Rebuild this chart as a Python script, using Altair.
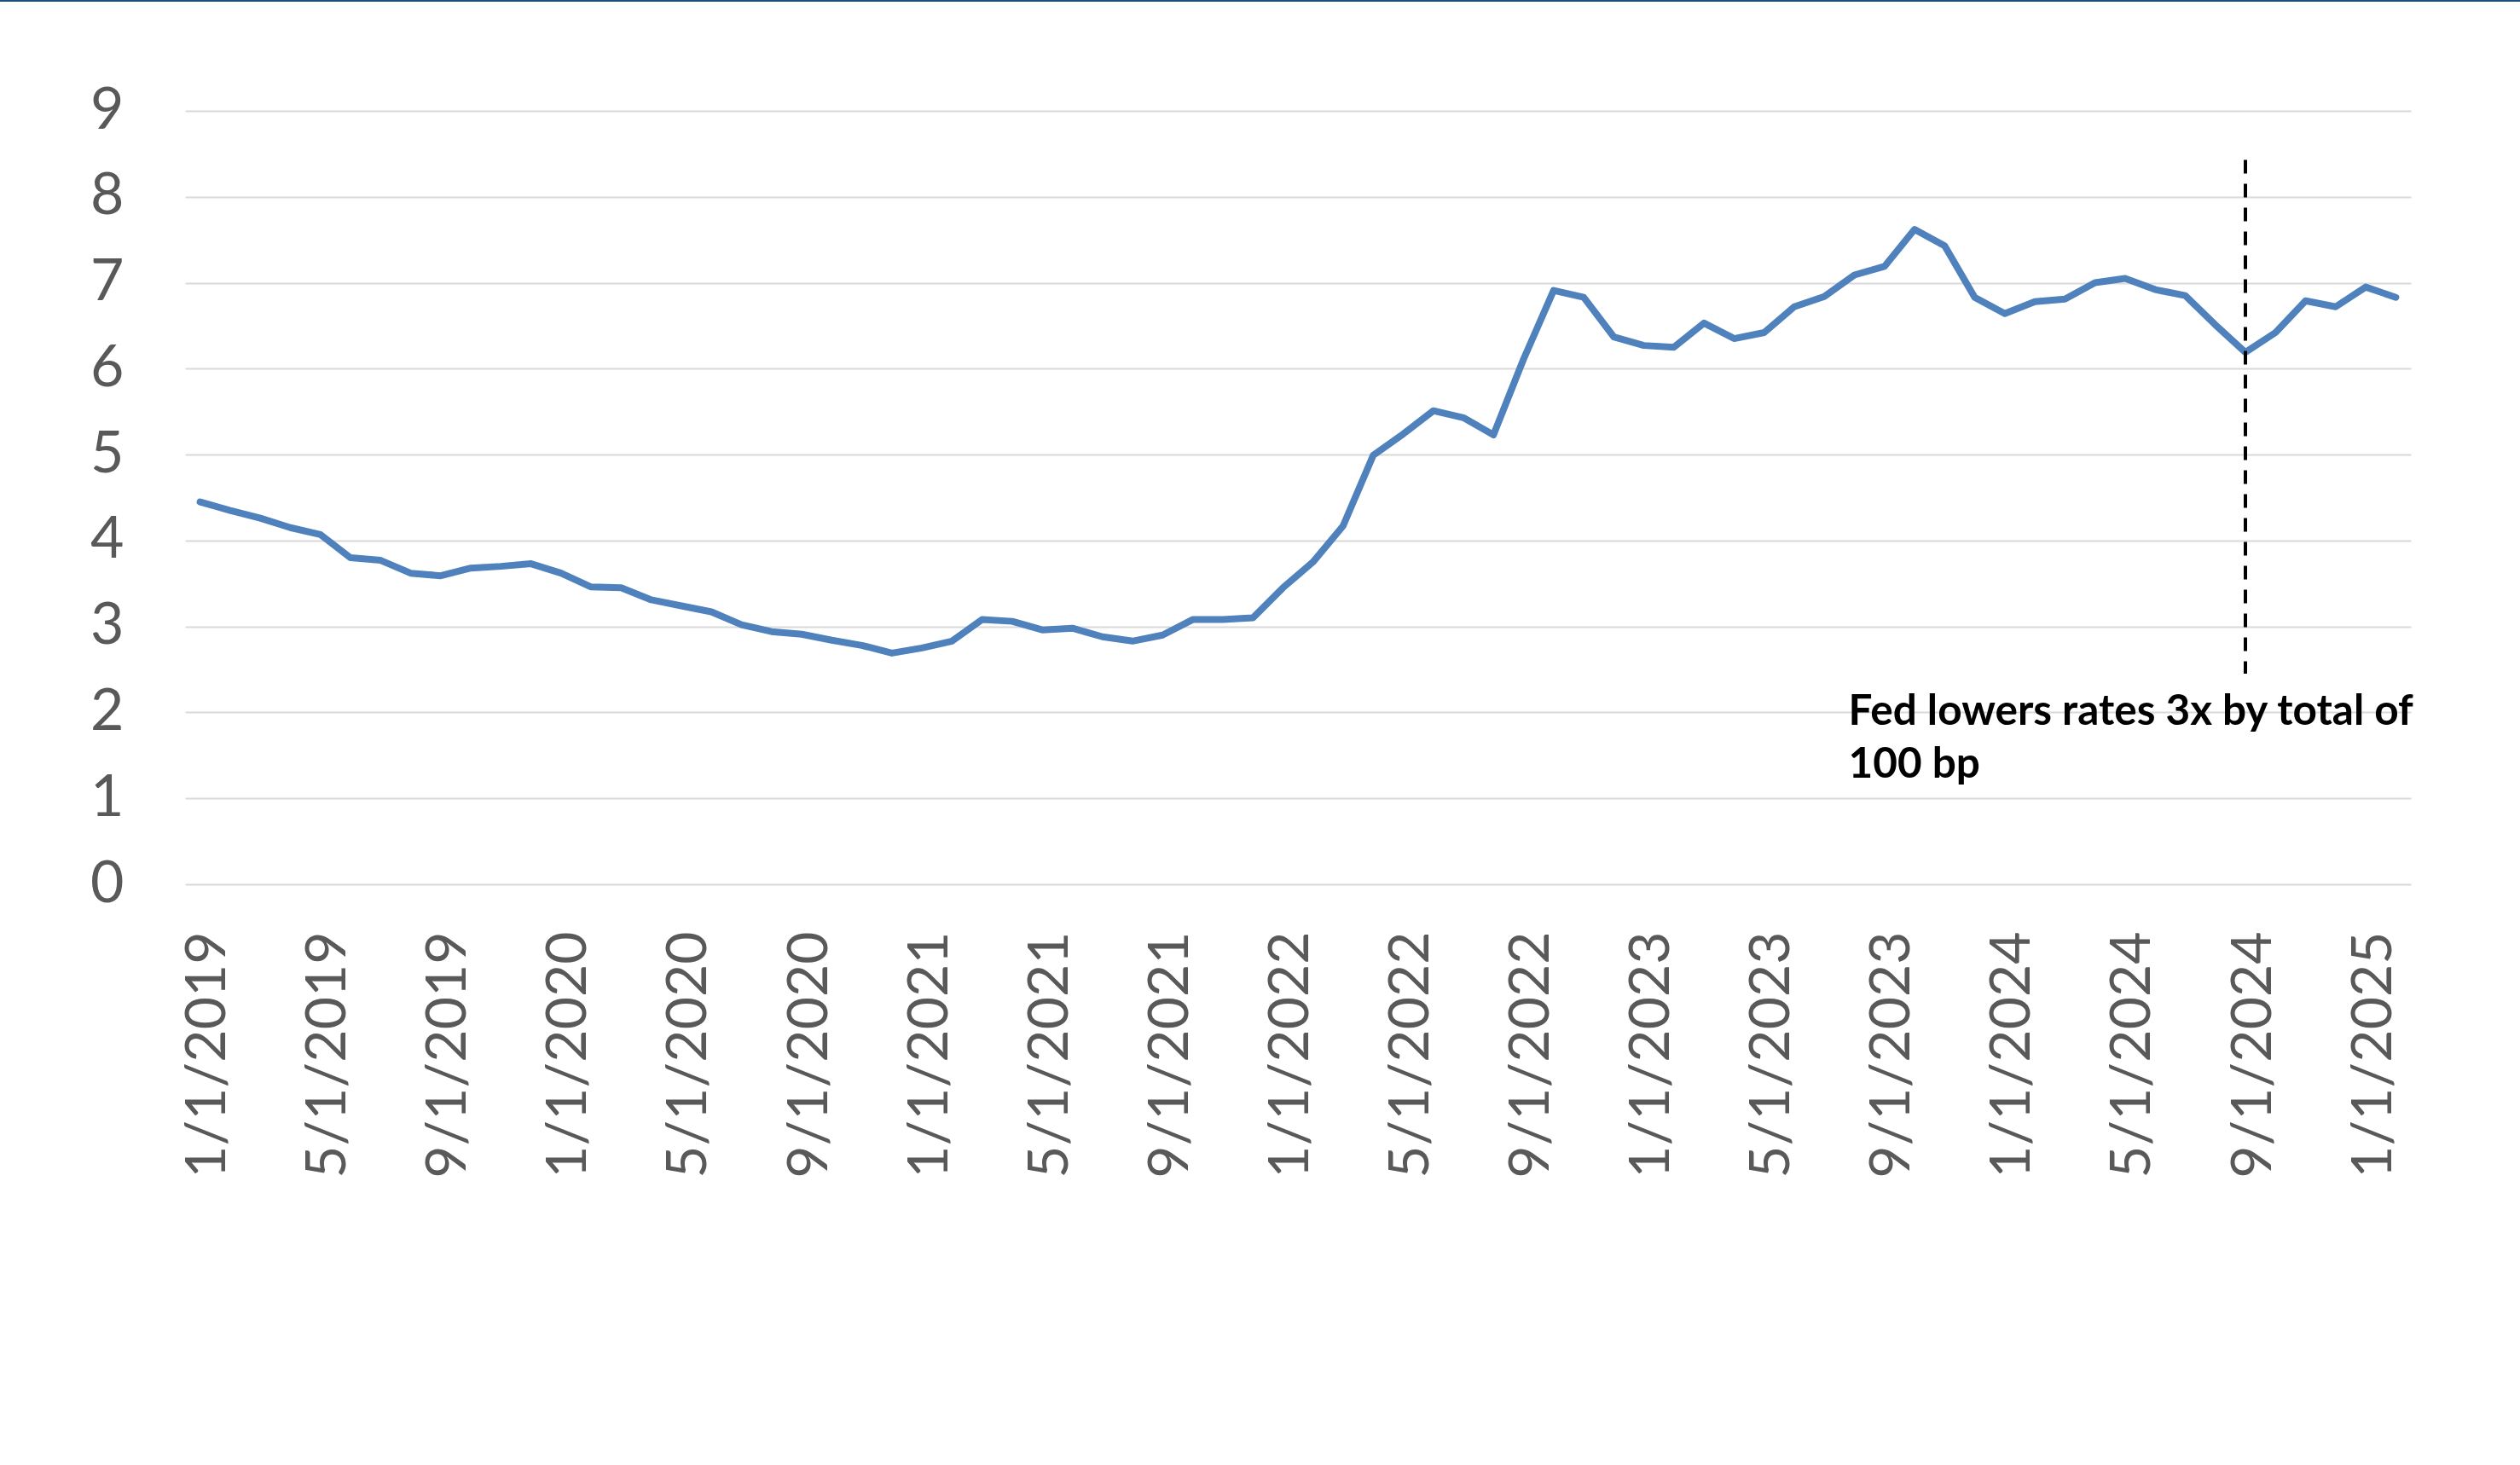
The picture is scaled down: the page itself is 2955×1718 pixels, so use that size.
import altair as alt
import pandas as pd

# Monthly categories, 1/1/2019 .. 2/1/2025
dates = [f"{(i % 12) + 1}/1/{2019 + i // 12}" for i in range(74)]

rates = [
    4.45, 4.35, 4.26, 4.15, 4.07, 3.80, 3.77, 3.62, 3.59, 3.68, 3.70, 3.73,
    3.62, 3.46, 3.45, 3.31, 3.24, 3.17, 3.02, 2.94, 2.91, 2.84, 2.78, 2.69,
    2.75, 2.83, 3.08, 3.06, 2.96, 2.98, 2.88, 2.83, 2.90, 3.08, 3.08, 3.10,
    3.45, 3.75, 4.17, 4.99, 5.24, 5.51, 5.43, 5.23, 6.11, 6.91, 6.83, 6.37,
    6.27, 6.25, 6.53, 6.35, 6.42, 6.72, 6.84, 7.09, 7.19, 7.62, 7.43, 6.83,
    6.64, 6.78, 6.81, 7.00, 7.05, 6.92, 6.85, 6.51, 6.19, 6.42, 6.79, 6.72,
    6.95, 6.83,
]

tick_labels = dates[::4]
y_ticks = [0, 1, 2, 3, 4, 5, 6, 7, 8, 9]

event_date = ["9/1/2024"]
event_top = [8.43]
event_bottom = [2.45]

note_date = ["8/1/2023"]
note_y = [1.86]
note_lines = ["Fed lowers rates 3x by total of", "100 bp"]

FONT = "Lato"

df = pd.DataFrame({"date": dates, "rate": rates})
ev = pd.DataFrame({"date": event_date, "top": event_top, "bottom": event_bottom})
nt = pd.DataFrame({"date": note_date, "y": note_y})

x_scale = alt.Scale(type="point", domain=dates, padding=0.5)
y_scale = alt.Scale(domain=[0, 9], nice=False, zero=True)

line = alt.Chart(df).mark_line(
    color="#4F81BD", strokeWidth=8, strokeCap="round", strokeJoin="round"
).encode(
    x=alt.X("date:O", scale=x_scale, sort=None, title=None,
            axis=alt.Axis(values=tick_labels, labelAngle=270, labelFont=FONT,
                          labelFontSize=66, labelColor="#595959", labelPadding=55,
                          labelLimit=0, labelOverlap=False, labelOffset=9,
                          ticks=False, tickSize=0, domain=False, grid=False)),
    y=alt.Y("rate:Q", scale=y_scale, title=None,
            axis=alt.Axis(values=y_ticks, format="d", labelFont=FONT,
                          labelFontSize=68, labelColor="#595959", labelPadding=72,
                          ticks=False, tickSize=0, domain=False, grid=True,
                          gridColor="#D9D9D9", gridWidth=2)),
)

rule = alt.Chart(ev).mark_rule(
    color="black", strokeWidth=4, strokeDash=[16, 12]
).encode(
    x=alt.X("date:O", scale=x_scale, sort=None),
    y=alt.Y("top:Q", scale=y_scale),
    y2="bottom:Q",
)

note = alt.Chart(nt).mark_text(
    text=note_lines, font=FONT, fontSize=49.5, fontWeight="bold", color="black",
    align="left", baseline="alphabetic", lineHeight=62, dx=-7,
).encode(
    x=alt.X("date:O", scale=x_scale, sort=None),
    y=alt.Y("y:Q", scale=y_scale),
)

border = alt.Chart(nt).mark_rule(color="#1F4E79", strokeWidth=2).encode(
    x=alt.value(-217), x2=alt.value(2738), y=alt.value(-129)
)

chart = alt.layer(line, rule, note, border).properties(
    width=2610,
    height=907,
    autosize="none",
    background="white",
    padding={"left": 217, "top": 130, "right": 128, "bottom": 681},
).configure_view(stroke="transparent", strokeWidth=0)

chart.save("out.html", embed_options={"renderer": "svg", "actions": False})
